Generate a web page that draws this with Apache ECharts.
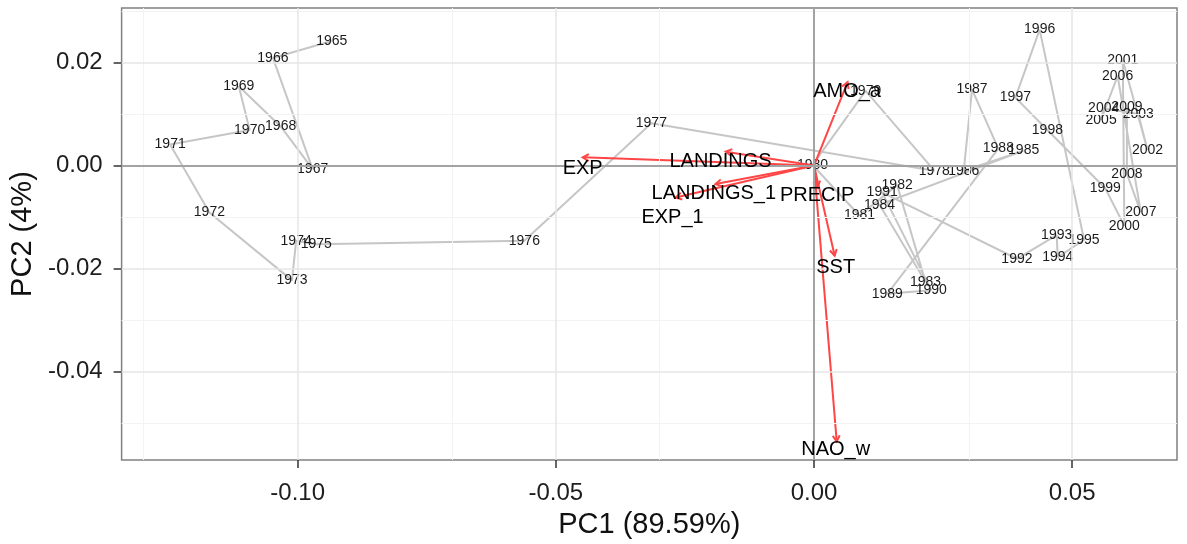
<!DOCTYPE html>
<html><head><meta charset="utf-8">
<script src="https://cdn.jsdelivr.net/npm/echarts@6/dist/echarts.min.js"></script>
<style>html,body{margin:0;padding:0;background:#fff}#c{width:1187px;height:544px}</style>
</head><body><div id="c"></div>
<script>
// Year scores (PC1, PC2)
const years = ['1965','1966','1967','1968','1969','1970','1971','1972','1973','1974','1975','1976','1977','1978','1979','1980','1981','1982','1983','1984','1985','1986','1987','1988','1989','1990','1991','1992','1993','1994','1995','1996','1997','1998','1999','2000','2001','2002','2003','2004','2005','2006','2007','2008','2009'];
const pc1 = [-0.0934,-0.1048,-0.0971,-0.1033,-0.1114,-0.1093,-0.1247,-0.1171,-0.1011,-0.1003,-0.0964,-0.0561,-0.0315,0.0233,0.0100,-0.0003,0.0088,0.0161,0.0216,0.0127,0.0406,0.0290,0.0306,0.0357,0.0142,0.0227,0.0132,0.0393,0.0470,0.0472,0.0523,0.0437,0.0390,0.0452,0.0564,0.0601,0.0598,0.0646,0.0628,0.0561,0.0556,0.0588,0.0633,0.0606,0.0606];
const pc2 = [0.0242,0.0209,-0.0007,0.0076,0.0154,0.0069,0.0041,-0.0091,-0.0223,-0.0146,-0.0153,-0.0146,0.0082,-0.0010,0.0145,0.0001,-0.0097,-0.0038,-0.0226,-0.0076,0.0029,-0.0010,0.0148,0.0033,-0.0249,-0.0242,-0.0052,-0.0181,-0.0135,-0.0178,-0.0144,0.0264,0.0132,0.0069,-0.0044,-0.0117,0.0205,0.0030,0.0100,0.0111,0.0089,0.0174,-0.0091,-0.0016,0.0113];

// Variable loadings (arrow tips) and label positions
const variables = ['EXP','LANDINGS','LANDINGS_1','EXP_1','AMO_a','PRECIP','SST','NAO_w'];
const loadX = [-0.0448,-0.0171,-0.0191,-0.0268,0.0065,0.0007,0.0040,0.0044];
const loadY = [0.0016,0.0027,-0.0036,-0.0062,0.0162,-0.0042,-0.0175,-0.0536];
const labelX = [-0.0448,-0.0181,-0.0194,-0.0274,0.0064,0.0006,0.0042,0.0042];
const labelY = [-0.0005,0.0007,-0.0055,-0.0100,0.0144,-0.0058,-0.0197,-0.0552];

// Grid lines
const xMinorGrid = [-0.125,-0.075,-0.025,0.025];
const yMinorGrid = [0.03,0.01,-0.01,-0.03,-0.05];
const xMajorGrid = [-0.10,-0.05,0.05];
const yMajorGrid = [0.02,-0.02,-0.04];

const xRange = [-0.1341, 0.0703];
const yRange = [-0.0572, 0.0306];

const FONT = "'Liberation Sans', Arial, sans-serif";
const chart = echarts.init(document.getElementById('c'));

const gridMarks = [];
xMinorGrid.forEach(v => gridMarks.push({xAxis: v, lineStyle: {color: '#f3f3f3', width: 1, type: 'solid'}}));
yMinorGrid.forEach(v => gridMarks.push({yAxis: v, lineStyle: {color: '#f3f3f3', width: 1, type: 'solid'}}));
xMajorGrid.forEach(v => gridMarks.push({xAxis: v, lineStyle: {color: '#e6e6e6', width: 1.5, type: 'solid'}}));
yMajorGrid.forEach(v => gridMarks.push({yAxis: v, lineStyle: {color: '#e6e6e6', width: 1.5, type: 'solid'}}));
gridMarks.push({xAxis: 0, lineStyle: {color: '#a3a3a3', width: 2, type: 'solid'}});
gridMarks.push({yAxis: 0, lineStyle: {color: '#a3a3a3', width: 2, type: 'solid'}});

const fmt = v => (Math.abs(v) < 1e-9 ? 0 : v).toFixed(2);

chart.setOption({
  animation: false,
  backgroundColor: '#fff',
  grid: {left: 120, right: 10, top: 8, bottom: 82, show: true, borderColor: '#808080', borderWidth: 1.5, backgroundColor: '#fff'},
  xAxis: {
    type: 'value', min: xRange[0], max: xRange[1],
    name: 'PC1 (89.59%)', nameLocation: 'middle', nameGap: 46,
    nameTextStyle: {fontFamily: FONT, fontSize: 29, color: '#111'},
    axisLine: {show: false, onZero: false},
    axisTick: {show: true, length: 8, lineStyle: {color: '#333', width: 1.5}},
    axisLabel: {showMinLabel: false, showMaxLabel: false, margin: 21, fontFamily: FONT, fontSize: 24, color: '#1e1e1e', formatter: fmt},
    splitLine: {show: false}
  },
  yAxis: {
    type: 'value', min: yRange[0], max: yRange[1],
    name: 'PC2 (4%)', nameLocation: 'middle', nameGap: 73, nameRotate: 90,
    nameTextStyle: {fontFamily: FONT, fontSize: 29, color: '#111'},
    axisLine: {show: false, onZero: false},
    axisTick: {show: true, length: 8, lineStyle: {color: '#333', width: 1.5}},
    axisLabel: {showMinLabel: false, showMaxLabel: false, margin: 19, fontFamily: FONT, fontSize: 24, color: '#1e1e1e', formatter: fmt},
    splitLine: {show: false}
  },
  series: [
    {
      type: 'scatter', data: [], silent: true, z: 1,
      markLine: {silent: true, symbol: ['none', 'none'], label: {show: false}, animation: false, data: gridMarks}
    },
    {
      type: 'line', data: pc1.map((v, i) => [v, pc2[i]]), showSymbol: false, symbol: 'none', silent: true, z: 2,
      lineStyle: {color: '#c6c6c6', width: 2}
    },
    {
      type: 'scatter', data: pc1.map((v, i) => [v, pc2[i], years[i]]), symbolSize: 1, silent: true, z: 3,
      itemStyle: {color: 'rgba(0,0,0,0)'},
      label: {show: true, position: 'inside', formatter: p => p.data[2], fontFamily: FONT, fontSize: 14, color: '#1a1a1a', textBorderWidth: 0, opacity: 1}
    },
    {
      type: 'custom', silent: true, z: 4,
      data: loadX.map((v, i) => [v, loadY[i]]),
      renderItem: function (params, api) {
        const o = api.coord([0, 0]);
        const p = api.coord([api.value(0), api.value(1)]);
        const ang = Math.atan2(p[1] - o[1], p[0] - o[0]);
        const L = 7, a = Math.PI / 6;
        const h1 = [p[0] - L * Math.cos(ang - a), p[1] - L * Math.sin(ang - a)];
        const h2 = [p[0] - L * Math.cos(ang + a), p[1] - L * Math.sin(ang + a)];
        return {type: 'group', children: [
          {type: 'line', shape: {x1: o[0], y1: o[1], x2: p[0], y2: p[1]}, style: {stroke: '#ff4646', lineWidth: 2}},
          {type: 'polyline', shape: {points: [h1, p, h2]}, style: {stroke: '#ff4646', lineWidth: 2, fill: null}}
        ]};
      }
    },
    {
      type: 'scatter', data: labelX.map((v, i) => [v, labelY[i], variables[i]]), symbolSize: 1, silent: true, z: 5,
      itemStyle: {color: 'rgba(0,0,0,0)'},
      label: {show: true, position: 'inside', formatter: p => p.data[2], fontFamily: FONT, fontSize: 20, color: '#000', textBorderWidth: 0, opacity: 1}
    }
  ]
});
</script></body></html>
